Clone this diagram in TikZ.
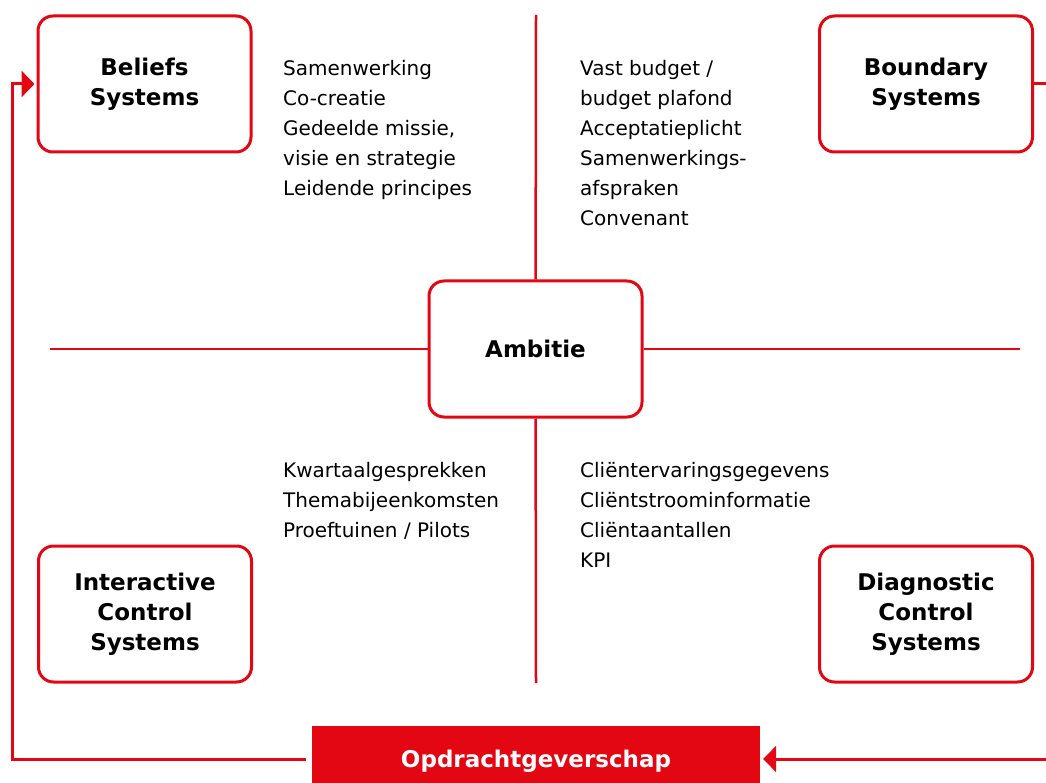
\documentclass[tikz,border=0pt]{standalone}
\usepackage{fontspec}
\setmainfont{DejaVu Sans}
\usetikzlibrary{arrows.meta}
\definecolor{lcred}{HTML}{E30613}

\tikzset{
  lever/.style={draw=lcred, line width=3pt, rounded corners=15pt, fill=white,
    minimum width=213pt, minimum height=136pt, align=center,
    font=\fontsize{23}{30}\selectfont\bfseries},
  instr/.style={anchor=north west, inner sep=0pt, align=left,
    font=\fontsize{20}{30}\selectfont},
  axis/.style={draw=lcred, line width=2.5pt},
  loopline/.style={draw=lcred, line width=3pt},
  looptip/.style={-{Triangle[length=13pt,width=26pt]}}
}

\begin{document}
\begin{tikzpicture}[x=1pt,y=-1pt]
				\useasboundingbox (0,0) rectangle (1046,783);
				
				% assen
				\coordinate (axN) at (536,15);
				\coordinate (axS) at (536,683);
				\coordinate (axW) at (50,349);
				\coordinate (axE) at (1020,349);
				\node[lever] (amb) at (535.5,349) {Ambitie};
				\draw[axis] (axN) -- (amb);
				\draw[axis] (axS) -- (amb);
				\draw[axis] (axW) -- (amb);
				\draw[axis] (axE) -- (amb);
				
				% de vier hefbomen
				\node[lever] (bel) at (144.5,84) {Beliefs\\Systems};
				\node[lever] (bnd) at (926,84) {Boundary\\Systems};
				\node[lever] (ics) at (145,614) {Interactive\\Control\\Systems};
				\node[lever] (dcs) at (926,614) {Diagnostic\\Control\\Systems};
				
				% instrumenten per kwadrant
				\node[instr] (belt) at (283,60) {Samenwerking\\Co-creatie\\Gedeelde missie,\\visie en strategie\\Leidende principes};
				\node[instr] (bndt) at (580,60) {Vast budget /\\budget plafond\\Acceptatieplicht\\Samenwerkings-\\afspraken\\Convenant};
				\node[instr] (icst) at (283,462) {Kwartaalgesprekken\\Themabijeenkomsten\\Proeftuinen / Pilots};
				\node[instr] (dcst) at (580,462) {Cli\"entervaringsgegevens\\Cli\"entstroominformatie\\Cli\"entaantallen\\KPI};
				
				% opdrachtgeverschap en terugkoppeling
				\node[fill=lcred, text=white, minimum width=448pt, minimum height=57pt,
				  text height=25pt, text depth=0pt, inner sep=0pt,
				  font=\fontsize{23}{30}\selectfont\bfseries] (opd) at (536,754.5) {Opdrachtgeverschap};
				\coordinate (lc) at (12,759);
				\coordinate (rc) at (1046,759);
				\draw[loopline,looptip] ([xshift=-6pt]opd.west |- lc) -- (lc) |- ([xshift=-2pt]bel.west);
				\draw[loopline,looptip] (rc) -- ([xshift=3pt]opd.east |- rc);
				\draw[loopline] (bnd.east) -- (bnd.east -| rc);
			\end{tikzpicture}
\end{document}
